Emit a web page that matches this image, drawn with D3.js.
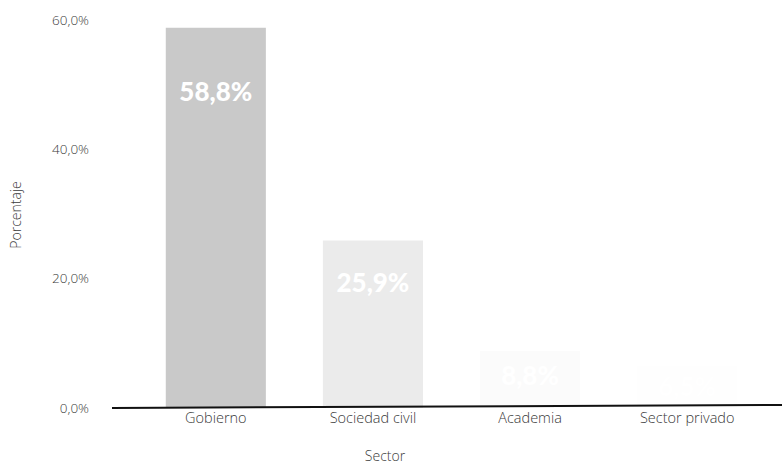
<!DOCTYPE html>
<html><head><meta charset="utf-8">
<script src="https://cdn.jsdelivr.net/npm/d3@7"></script>
<style>body{margin:0;background:#fff}</style>
</head><body>
<svg id="c" width="782" height="465"></svg>
<script>
const categories = ["Gobierno", "Sociedad civil", "Academia", "Sector privado"];
const values = [58.8, 25.9, 8.8, 6.5];
const barColors = ["#c9c9c9", "#ebebeb", "#fbfbfb", "#fefefe"];
const yTicks = [0, 20, 40, 60];

const svg = d3.select("#c");
const font = "'Open Sans', sans-serif";
const x = d3.scaleBand().domain(categories).range([137.5, 765.5]).paddingInner(0.363).paddingOuter(0.18);
const y = d3.scaleLinear().domain([0, 60]).range([408, 20]);
const fmt = v => d3.format(".1f")(v).replace(".", ",") + "%";

svg.selectAll("rect.bar").data(values).join("rect")
  .attr("class", "bar")
  .attr("x", (d, i) => x(categories[i]))
  .attr("width", x.bandwidth())
  .attr("y", d => y(d))
  .attr("height", d => y(0) - y(d))
  .attr("fill", (d, i) => barColors[i]);

svg.selectAll("text.val").data(values).join("text")
  .attr("class", "val")
  .attr("x", (d, i) => x(categories[i]) + x.bandwidth() / 2)
  .attr("y", d => y(d) + 3.3 * Math.sqrt(y(0) - y(d)) + 9)
  .attr("text-anchor", "middle")
  .attr("font-family", "Lato, sans-serif")
  .attr("font-weight", 900)
  .attr("font-size", 26)
  .attr("fill", "#ffffff")
  .text(d => fmt(d));

// y axis (no line)
const ya = svg.append("g").attr("transform", "translate(89,0)")
  .call(d3.axisLeft(y).tickValues(yTicks).tickSize(0).tickPadding(0).tickFormat(fmt));
ya.select(".domain").remove();
ya.selectAll("text").attr("font-family", font).attr("font-weight", 300).attr("font-size", 13.5).attr("fill", "#3a3a3a");

// x axis
const xa = svg.append("g").attr("transform", "translate(0,407)")
  .call(d3.axisBottom(x).tickSize(0).tickPadding(6));
xa.select(".domain").remove();
xa.selectAll("text").attr("font-family", font).attr("font-weight", 300).attr("font-size", 14.5).attr("fill", "#3a3a3a");
svg.append("line").attr("x1", 112).attr("x2", 782).attr("y1", 408).attr("y2", 405)
  .attr("stroke", "#111").attr("stroke-width", 2);

svg.append("text").attr("x", 385).attr("y", 461).attr("text-anchor", "middle")
  .attr("font-family", font).attr("font-weight", 300).attr("font-size", 14).attr("fill", "#3a3a3a").text("Sector");
svg.append("text").attr("transform", "translate(21,215) rotate(-90)").attr("text-anchor", "middle")
  .attr("font-family", font).attr("font-weight", 300).attr("font-size", 14).attr("fill", "#3a3a3a").text("Porcentaje");
</script>
</body></html>
